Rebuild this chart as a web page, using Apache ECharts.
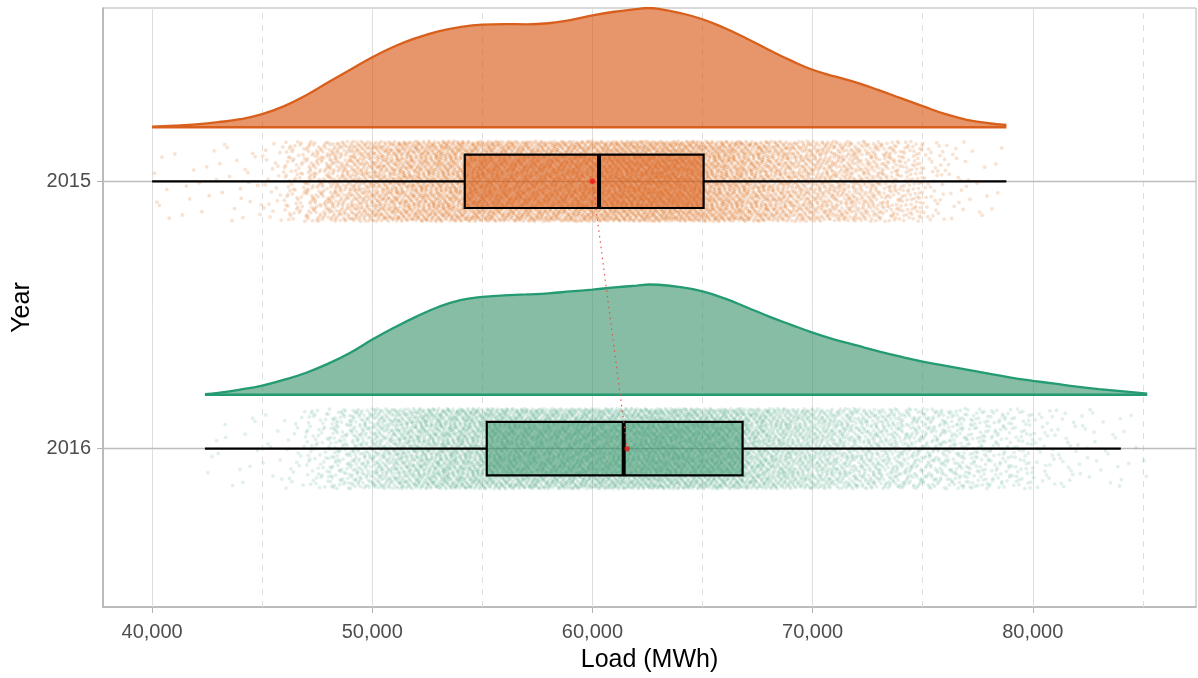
<!DOCTYPE html>
<html><head><meta charset="utf-8">
<script src="https://cdn.jsdelivr.net/npm/echarts@6/dist/echarts.min.js"></script>
<style>html,body{margin:0;padding:0;background:#fff}#c{width:1198px;height:678px}</style>
</head><body><div id="c"></div>
<script>
// ---------- data ----------
const years = ['2015', '2016'];
const yearPos = [2, 1];

const xTicks = [40000, 50000, 60000, 70000, 80000];
const xTickLabels = ['40,000', '50,000', '60,000', '70,000', '80,000'];
const xMinorTicks = [45000, 55000, 65000, 75000, 85000];

// density curves (x in MWh, height in y-axis units above the baseline)
const dens2015X = [40000, 41000, 42000, 43000, 44000, 45000, 46000, 47000, 48000, 49000, 50000, 51000, 52000, 53000, 54000, 55000, 56000, 57000, 58000, 59000, 60000, 61000, 62000, 62500, 63000, 64000, 65000, 66000, 67000, 68000, 69000, 70000, 71000, 72000, 73000, 74000, 75000, 76000, 77000, 78000, 78800];
const dens2015H = [0.002, 0.006, 0.011, 0.019, 0.030, 0.049, 0.079, 0.120, 0.168, 0.215, 0.262, 0.302, 0.334, 0.359, 0.375, 0.384, 0.386, 0.385, 0.389, 0.401, 0.418, 0.432, 0.442, 0.446, 0.443, 0.427, 0.404, 0.371, 0.332, 0.290, 0.250, 0.215, 0.190, 0.167, 0.139, 0.109, 0.079, 0.050, 0.028, 0.015, 0.009];
const dens2016X = [42400, 43000, 44000, 45000, 46000, 47000, 48000, 49000, 50000, 51000, 52000, 53000, 54000, 55000, 56000, 57000, 58000, 59000, 60000, 61000, 62000, 62600, 63000, 64000, 65000, 66000, 67000, 68000, 69000, 70000, 71000, 72000, 73000, 74000, 75000, 76000, 77000, 78000, 79000, 80000, 81000, 82000, 83000, 84000, 85200];
const dens2016H = [0.002, 0.007, 0.019, 0.034, 0.056, 0.082, 0.116, 0.157, 0.206, 0.251, 0.292, 0.328, 0.354, 0.366, 0.371, 0.375, 0.379, 0.386, 0.393, 0.401, 0.408, 0.412, 0.411, 0.402, 0.386, 0.360, 0.327, 0.293, 0.262, 0.232, 0.206, 0.184, 0.162, 0.142, 0.124, 0.109, 0.094, 0.079, 0.064, 0.052, 0.041, 0.030, 0.021, 0.013, 0.004];
const densBase = [0.202, 0.202];   // offset of each cloud above its year line

// box plots: [min, Q1, median, Q3, max]
const box2015 = [40000, 54200, 60300, 65050, 78800];
const box2016 = [42400, 55200, 61420, 66820, 84000];
const means = [60000, 61580];

// jittered observations: number of points per 1,000 MWh bin (read from the cloud density)
const pts2015Start = 40000, pts2015End = 78800;
const pts2015Counts = [6, 5, 6, 8, 12, 22, 70, 125, 175, 225, 265, 300, 325, 350, 365, 370, 368, 366, 375, 392, 405, 418, 426, 420, 400, 372, 338, 295, 255, 220, 198, 178, 152, 122, 92, 40, 18, 8, 4];
const pts2016Start = 42000, pts2016Lo = 42400, pts2016End = 85200;
const pts2016Counts = [3, 5, 6, 8, 20, 55, 100, 150, 205, 255, 298, 330, 350, 360, 364, 366, 372, 380, 388, 396, 404, 400, 385, 366, 340, 308, 272, 240, 215, 190, 170, 150, 132, 116, 100, 85, 70, 56, 30, 20, 14, 10, 5, 2];

// ---------- styling ----------
const FONT = 'Liberation Sans, Arial, sans-serif';
const orangeLine = '#D95F1C', orangeFill = 'rgba(213,80,7,0.6)', orangePt = 'rgba(217,95,2,0.22)';
const greenLine = '#249B72', greenFill = 'rgba(53,145,103,0.6)', greenPt = 'rgba(27,140,100,0.17)';
const orangeBox = 'rgba(213,80,7,0.5)', greenBox = 'rgba(53,145,103,0.5)';
const JITTER = 0.15, BOX_HALF = 0.1;

// spread each bin's points over its x-range and the jitter band (Halton layout)
function halton(i, b) {
  let f = 1, r = 0;
  while (i > 0) { f /= b; r += f * (i % b); i = Math.floor(i / b); }
  return r;
}
function jitter(startBin, lo, hi, counts, center, offset) {
  const out = [];
  let k = offset;
  counts.forEach((n, b) => {
    const a = Math.max(startBin + b * 1000, lo);
    const e = Math.min(startBin + (b + 1) * 1000, hi);
    for (let i = 0; i < n; i++) {
      k++;
      const fx = halton(k, 3);
      const fy = halton(k, 5);
      out.push([a + fx * (e - a), center + (fy * 2 - 1) * JITTER]);
    }
  });
  return out;
}

const chart = echarts.init(document.getElementById('c'), null, {renderer: 'canvas'});

const gridLines = [];
xTicks.forEach(v => gridLines.push({xAxis: v, lineStyle: {color: '#DEDEDE', width: 1, type: 'solid'}}));
xMinorTicks.forEach(v => gridLines.push({xAxis: v, lineStyle: {color: '#DEDEDE', width: 1, type: [6, 6]}}));
yearPos.forEach(v => gridLines.push({yAxis: v, lineStyle: {color: '#BDBDBD', width: 1.4, type: 'solid'}}));

function densSeries(X, H, base, line, fill) {
  return {
    type: 'line', data: X.map((x, i) => [x, base + H[i]]), smooth: 0.45, symbol: 'none',
    lineStyle: {color: line, width: 2.3}, areaStyle: {color: fill, opacity: 1, origin: base}, z: 3, silent: true
  };
}
function baseSeries(x0, x1, base, line) {
  return {type: 'line', data: [[x0, base], [x1, base]], symbol: 'none', lineStyle: {color: line, width: 2.6}, z: 4, silent: true};
}

const boxData = [
  [yearPos[0], ...box2015],
  [yearPos[1], ...box2016]
];
const boxFills = [orangeBox, greenBox];

chart.setOption({
  animation: false,
  backgroundColor: '#fff',
  grid: {left: 103, right: 2, top: 8, bottom: 71, show: true, borderColor: '#B3B3B3', borderWidth: 1, containLabel: false},
  xAxis: {
    type: 'value', min: 37769, max: 87415,
    name: 'Load (MWh)', nameLocation: 'middle', nameGap: 41,
    nameTextStyle: {fontSize: 25, color: '#000', fontFamily: FONT},
    axisLine: {show: true, onZero: false, lineStyle: {color: '#B3B3B3', width: 1.6}},
    axisTick: {show: true, customValues: xTicks, length: 6, lineStyle: {color: '#B3B3B3', width: 1}},
    axisLabel: {customValues: xTicks, formatter: v => xTickLabels[xTicks.indexOf(v)] || '', fontSize: 20, color: '#4D4D4D', fontFamily: FONT, margin: 15},
    splitLine: {show: false}
  },
  yAxis: {
    type: 'value', min: 0.408, max: 2.648,
    name: 'Year', nameLocation: 'middle', nameGap: 68, nameRotate: 90,
    nameTextStyle: {fontSize: 25, color: '#000', fontFamily: FONT},
    axisLine: {show: true, onZero: false, lineStyle: {color: '#B3B3B3', width: 1.6}},
    axisTick: {show: true, customValues: yearPos, length: 6, lineStyle: {color: '#B3B3B3', width: 1}},
    axisLabel: {customValues: yearPos, formatter: v => years[yearPos.indexOf(v)] || '', fontSize: 20, color: '#4D4D4D', fontFamily: FONT, margin: 12},
    splitLine: {show: false}
  },
  series: [
    {type: 'line', data: [], silent: true, z: 1,
      markLine: {silent: true, z: 1, symbol: ['none', 'none'], label: {show: false}, animation: false, data: gridLines}},
    densSeries(dens2015X, dens2015H, yearPos[0] + densBase[0], orangeLine, orangeFill),
    baseSeries(pts2015Start, pts2015End, yearPos[0] + densBase[0], orangeLine),
    densSeries(dens2016X, dens2016H, yearPos[1] + densBase[1], greenLine, greenFill),
    baseSeries(pts2016Lo, pts2016End, yearPos[1] + densBase[1], greenLine),
    {type: 'scatter', data: jitter(pts2015Start, pts2015Start, pts2015End, pts2015Counts, yearPos[0], 0),
      symbolSize: 3.8, itemStyle: {color: orangePt}, z: 5, silent: true, progressive: 0, large: false},
    {type: 'scatter', data: jitter(pts2016Start, pts2016Lo, pts2016End, pts2016Counts, yearPos[1], 20000),
      symbolSize: 3.8, itemStyle: {color: greenPt}, z: 5, silent: true, progressive: 0, large: false},
    {type: 'custom', data: boxData, encode: {x: [1, 2, 3, 4, 5], y: 0}, z: 6, silent: true,
      renderItem(params, api) {
        const y = api.value(0);
        const mn = api.coord([api.value(1), y]), q1 = api.coord([api.value(2), y]), md = api.coord([api.value(3), y]);
        const q3 = api.coord([api.value(4), y]), mx = api.coord([api.value(5), y]);
        const top = api.coord([api.value(2), y + BOX_HALF])[1];
        const bot = api.coord([api.value(2), y - BOX_HALF])[1];
        return {type: 'group', children: [
          {type: 'line', shape: {x1: mn[0], y1: mn[1], x2: q1[0], y2: q1[1]}, style: {stroke: '#000', lineWidth: 2.2}},
          {type: 'line', shape: {x1: q3[0], y1: q3[1], x2: mx[0], y2: mx[1]}, style: {stroke: '#000', lineWidth: 2.2}},
          {type: 'rect', shape: {x: q1[0], y: top, width: q3[0] - q1[0], height: bot - top}, style: {fill: boxFills[params.dataIndex], stroke: '#000', lineWidth: 2.2}},
          {type: 'line', shape: {x1: md[0], y1: top, x2: md[0], y2: bot}, style: {stroke: '#000', lineWidth: 4}}
        ]};
      }},
    {type: 'line', data: [[means[0], yearPos[0]], [means[1], yearPos[1]]], symbol: 'none',
      lineStyle: {color: 'rgba(232,80,65,0.95)', width: 1.2, type: [1.5, 4]}, z: 7, silent: true},
    {type: 'scatter', data: [[means[0], yearPos[0]], [means[1], yearPos[1]]], symbolSize: 5.5,
      itemStyle: {color: '#F01818'}, z: 8, silent: true}
  ]
});
</script></body></html>
